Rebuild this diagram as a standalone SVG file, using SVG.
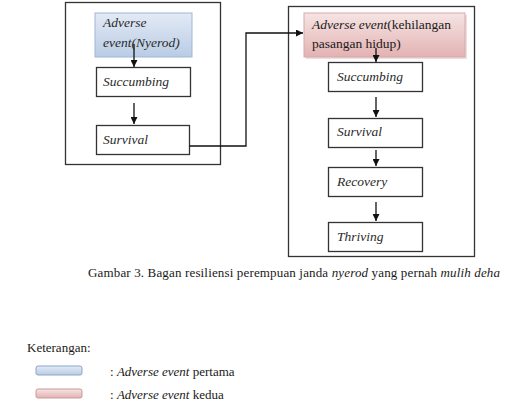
<svg xmlns="http://www.w3.org/2000/svg" width="525" height="419" viewBox="0 0 525 419">
<style>
text{font-family:"Liberation Serif","Times New Roman",serif;fill:#1a1a1a;}
.it{font-style:italic;}
.lbl{font-size:13.5px;font-style:italic;fill:#2a2a2a;}
.frame{fill:#fff;stroke:#333;stroke-width:1.3;}
.box{fill:#fff;stroke:#333;stroke-width:1.3;}
.conn{fill:none;stroke:#111;stroke-width:1.3;}
</style>
<defs>
<linearGradient id="gb" x1="0" y1="0" x2="0" y2="1"><stop offset="0" stop-color="#e3eaf5"/><stop offset="1" stop-color="#b9cce5"/></linearGradient>
<linearGradient id="gp" x1="0" y1="0" x2="0" y2="1"><stop offset="0" stop-color="#f6e4e4"/><stop offset="1" stop-color="#e3b2b2"/></linearGradient>
<marker id="ah" viewBox="0 0 10 10" refX="10" refY="5" markerWidth="7" markerHeight="7" markerUnits="userSpaceOnUse" orient="auto"><path d="M0,0 L10,5 L0,10 z" fill="#111"/></marker>
</defs>
<rect width="525" height="419" fill="#fff"/>
<g id="frame-left"><rect class="frame" x="65.5" y="2.5" width="155" height="162"/></g>
<g id="frame-right"><rect class="frame" x="288.5" y="6.5" width="186" height="250"/></g>
<g id="n-adverse1"><rect x="95" y="13" width="97" height="44" fill="url(#gb)" stroke="#9fb6d6" stroke-width="1"/><text class="lbl" x="103" y="27">Adverse</text><text class="lbl" x="103" y="47">event(Nyerod)</text></g>
<g id="n-succ1"><rect class="box" x="96.5" y="67.5" width="94" height="29"/><text class="lbl" x="103" y="86">Succumbing</text></g>
<g id="n-surv1"><rect class="box" x="96.5" y="125.5" width="93" height="29"/><text class="lbl" x="103" y="144">Survival</text></g>
<g id="n-adverse2"><rect x="306" y="15" width="161" height="44" fill="#c9a0a0" opacity="0.35"/><rect x="304" y="13" width="161" height="44" fill="url(#gp)" stroke="#d7a9a9" stroke-width="1"/><text x="312" y="29" font-size="13.5"><tspan class="it">Adverse event</tspan>(kehilangan</text><text x="312" y="48" font-size="13.5">pasangan hidup)</text></g>
<g id="n-succ2"><rect class="box" x="328.5" y="62.5" width="94" height="29"/><text class="lbl" x="337" y="81">Succumbing</text></g>
<g id="n-surv2"><rect class="box" x="328.5" y="118.5" width="94" height="29"/><text class="lbl" x="337" y="136">Survival</text></g>
<g id="n-recov"><rect class="box" x="328.5" y="167.5" width="94" height="29"/><text class="lbl" x="337" y="186">Recovery</text></g>
<g id="n-thriv"><rect class="box" x="328.5" y="222.5" width="94" height="29"/><text class="lbl" x="337" y="241">Thriving</text></g>
<g id="connectors">
<line class="conn" x1="134" y1="44" x2="134" y2="67" marker-end="url(#ah)"/>
<line class="conn" x1="134" y1="103" x2="134" y2="124" marker-end="url(#ah)"/>
<polyline class="conn" points="189.5,146 246,146 246,33 303,33" marker-end="url(#ah)"/>
<line class="conn" x1="376" y1="48" x2="376" y2="62" marker-end="url(#ah)"/>
<line class="conn" x1="376" y1="97" x2="376" y2="117" marker-end="url(#ah)"/>
<line class="conn" x1="376" y1="150" x2="376" y2="166" marker-end="url(#ah)"/>
<line class="conn" x1="376" y1="202" x2="376" y2="221" marker-end="url(#ah)"/>
</g>
<text x="88" y="277" font-size="13" textLength="412">Gambar 3. Bagan resiliensi perempuan janda <tspan class="it">nyerod</tspan> yang pernah <tspan class="it">mulih deha</tspan></text>
<g id="legend">
<text x="27" y="352" font-size="13">Keterangan:</text>
<rect x="36" y="366" width="46" height="9" rx="2" fill="url(#gb)" stroke="#8ea6c8" stroke-width="1"/>
<rect x="36" y="389" width="46" height="9" rx="2" fill="url(#gp)" stroke="#c99a9a" stroke-width="1"/>
<text x="110" y="376" font-size="13">: <tspan class="it">Adverse event</tspan> pertama</text>
<text x="110" y="399" font-size="13">: <tspan class="it">Adverse event</tspan> kedua</text>
</g>
</svg>
